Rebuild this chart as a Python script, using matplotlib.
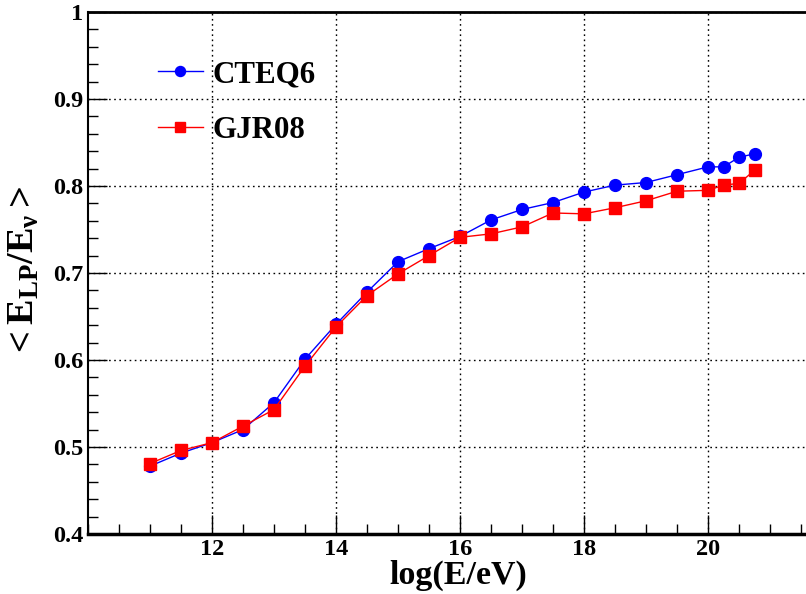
import matplotlib
matplotlib.use("Agg")
import matplotlib.pyplot as plt
from matplotlib.ticker import MultipleLocator

plt.rcParams['font.family'] = ['Liberation Serif', 'DejaVu Serif']
plt.rcParams['font.weight'] = 'bold'
plt.rcParams['mathtext.fontset'] = 'custom'
plt.rcParams['mathtext.rm'] = 'Liberation Serif:bold'
plt.rcParams['mathtext.bf'] = 'Liberation Serif:bold'
plt.rcParams['mathtext.it'] = 'Liberation Serif:bold'

log_e = [11, 11.5, 12, 12.5, 13, 13.5, 14, 14.5, 15, 15.5, 16, 16.5, 17, 17.5,
         18, 18.5, 19, 19.5, 20, 20.25, 20.5, 20.75]
cteq6 = [0.478, 0.493, 0.505, 0.520, 0.551, 0.601, 0.641, 0.678, 0.713, 0.728,
         0.742, 0.761, 0.773, 0.781, 0.793, 0.801, 0.804, 0.813, 0.822, 0.822,
         0.833, 0.837]
gjr08 = [0.481, 0.496, 0.505, 0.524, 0.543, 0.593, 0.638, 0.674, 0.699, 0.720,
         0.741, 0.745, 0.753, 0.769, 0.768, 0.775, 0.783, 0.794, 0.795, 0.801,
         0.803, 0.818]
x_ticks = [12, 14, 16, 18, 20]
y_ticks = [0.4, 0.5, 0.6, 0.7, 0.8, 0.9, 1.0]
y_ticklabels = ['0.4', '0.5', '0.6', '0.7', '0.8', '0.9', '1']

W, H = 806, 594
fig = plt.figure(figsize=(W / 100, H / 100), dpi=100)
x0, x1, ytop, ybot = 88, 832, 12, 534
ax = fig.add_axes([x0 / W, (H - ybot) / H, (x1 - x0) / W, (ybot - ytop) / H])

ax.plot(log_e, cteq6, color='#0000ff', lw=1.0, marker='o', ms=8.5,
        mec='#0000ff', mfc='#0000ff', label='CTEQ6', zorder=3)
ax.plot(log_e, gjr08, color='#ff0000', lw=1.0, marker='s', ms=8.5,
        mec='#ff0000', mfc='#ff0000', label='GJR08', zorder=3)

ax.set_xlim(10, 22)
ax.set_ylim(0.4, 1.0)
ax.set_xticks(x_ticks)
ax.set_yticks(y_ticks)
ax.set_yticklabels(y_ticklabels)
ax.xaxis.set_minor_locator(MultipleLocator(0.5))
ax.yaxis.set_minor_locator(MultipleLocator(0.02))
ax.tick_params(which='major', direction='in', length=14, width=1.0, labelsize=17.5,
               top=False, right=False, pad=3.5)
ax.tick_params(which='minor', direction='in', length=7, width=1.0, top=False, right=False)
for lab in ax.get_xticklabels() + ax.get_yticklabels():
    lab.set_fontweight('bold')

ax.grid(True, which='major', linestyle=(0, (1.2, 2.5)), color='black', lw=1.0)
ax.spines['bottom'].set_linewidth(2.5)
ax.spines['left'].set_linewidth(1.5)
ax.spines['top'].set_linewidth(2.0)

fig.text(458 / W, 1 - 584 / H, 'log(E/eV)', fontsize=24.5, fontweight='bold',
         ha='center', va='baseline')
fig.text(24 / W, 1 - 273 / H, r'$<\mathbf{E}_{\mathbf{LP}}/\mathbf{E}_{\nu}>$',
         rotation=90, ha='center', va='center', fontsize=27.5)

leg = ax.legend(loc='upper left', bbox_to_anchor=(158 / W, 1 - 60 / H),
                bbox_transform=fig.transFigure, frameon=False,
                prop={'family': 'Liberation Serif', 'weight': 'bold', 'size': 22.3},
                handlelength=1.44, handletextpad=0.33, labelspacing=0.87,
                markerscale=0.85, borderaxespad=0, borderpad=0)

fig.savefig('out.png', dpi=100)
